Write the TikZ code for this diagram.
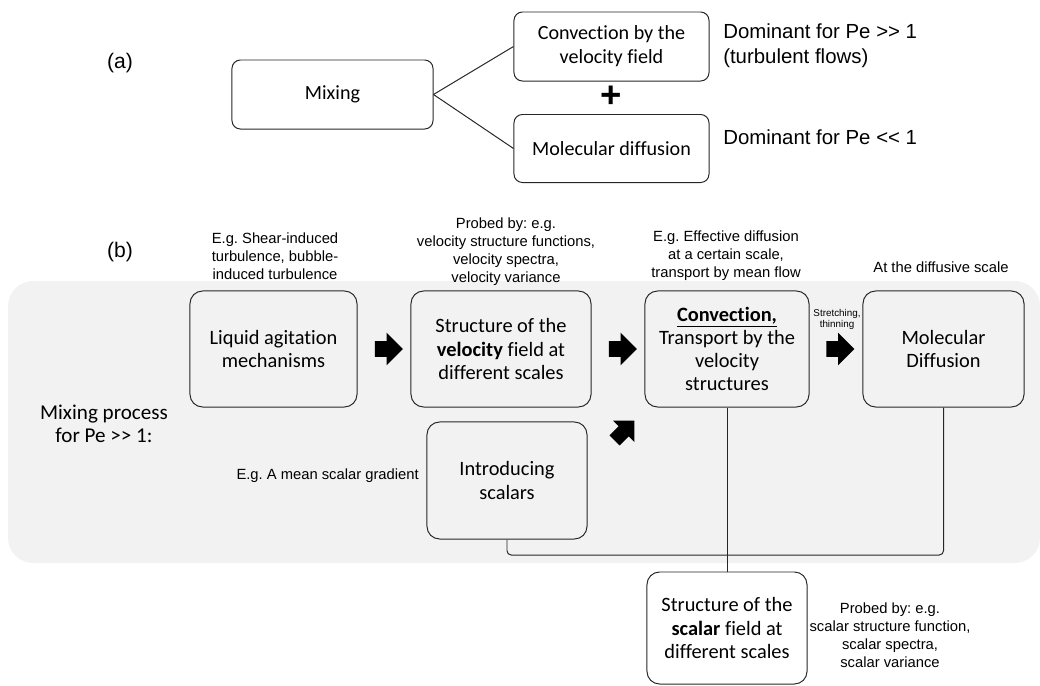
\documentclass[tikz,border=0pt]{standalone}
\usepackage{fontspec}
\setmainfont{Carlito}[Ligatures=NoCommon]
\newfontfamily\arialfont{Liberation Sans}
\usetikzlibrary{positioning,shapes.arrows}
\definecolor{panelgray}{HTML}{F2F2F2}
\newcommand{\ggt}{>\kern0pt>}
\newcommand{\llt}{<\kern0pt<}
\frenchspacing
\tikzset{
  box/.style={draw=black!85, line width=0.7pt, rounded corners=6pt, align=center,
    inner sep=2pt, font=\fontsize{14.3}{17}\selectfont},
  bigbox/.style={box, rounded corners=9pt, font=\fontsize{14.5}{16.5}\selectfont},
  note/.style={align=center, inner sep=0pt, font=\arialfont\fontsize{10.5}{12.8}\selectfont},
  dominant/.style={align=left, inner sep=0pt, anchor=west, font=\arialfont\fontsize{14.5}{17.8}\selectfont},
  fat/.style={single arrow, fill=black, draw=none, inner xsep=0pt, inner ysep=0.19cm,
    minimum height=0.7cm, single arrow head extend=0.21cm, single arrow head indent=0pt},
  link/.style={draw=black!85, line width=0.7pt},
  bracket/.style={link, rounded corners=3pt}
}

\begin{document}
\begin{tikzpicture}[x=0.025cm, y=-0.025cm]
  \useasboundingbox (0,0) rectangle (1040,685);
  % panel behind part (b)
  \fill[panelgray, rounded corners=18pt] (8,281) rectangle (1040,563);

  % part (a)
  \node[font=\arialfont\fontsize{15}{17}\selectfont] (labela) at (120,63) {(a)};
  \node[box, minimum width=5.025cm, minimum height=1.725cm] (mixing) at (332.5,94.5) {Mixing};
  \node[box, minimum width=4.875cm, minimum height=1.725cm] (convvel) at (611.5,46.5) {Convection by the\\velocity field};
  \node[box, minimum width=4.875cm, minimum height=1.7cm] (moldiff) at (611.5,148.5) {Molecular diffusion};
  \node[font=\arialfont\bfseries\fontsize{26}{26}\selectfont, inner sep=0pt] (plus) at (611.5,97) {+};
  \node[dominant] (domhigh) at (723,45.5) {Dominant for Pe \ggt{} 1\\(turbulent flows)};
  \node[dominant] (domlow) at (723,137) {Dominant for Pe \llt{} 1};

  \draw[link] (mixing.east) -- (convvel.west);
  \draw[link] (mixing.east) -- (moldiff.west);

  % part (b)
  \node[font=\arialfont\fontsize{15}{17}\selectfont] (labelb) at (120,252) {(b)};
  \node[note] (shearnote) at (275,256) {E.g. Shear-induced\\turbulence, bubble-\\induced turbulence};
  \node[note] (velnote) at (506,251.5) {Probed by: e.g.\\velocity structure functions,\\velocity spectra,\\velocity variance};
  \node[note] (effnote) at (726,256) {E.g. Effective diffusion\\at a certain scale,\\transport by mean flow};
  \node[note] (diffnote) at (941,267) {At the diffusive scale};

  \node[bigbox, minimum width=4.175cm, minimum height=2.9cm] (liquid) at (273.5,349) {Liquid agitation\\mechanisms};
  \node[bigbox, minimum width=4.5cm, minimum height=2.9cm] (velfield) at (501,349) {Structure of the\\\textbf{velocity} field at\\different scales};
  \node[bigbox, minimum width=4.1cm, minimum height=2.9cm] (convect) at (727,349) {\textbf{\underline{Convection,}}\\Transport by the\\velocity\\structures};
  \node[bigbox, minimum width=4.025cm, minimum height=2.9cm] (diffusion) at (943.5,349) {Molecular\\Diffusion};
  \node[bigbox, minimum width=4cm, minimum height=2.925cm] (intro) at (507,480.5) {Introducing\\scalars};
  \node[bigbox, minimum width=4cm, minimum height=2.8cm] (scalarfield) at (727,628) {Structure of the\\\textbf{scalar} field at\\different scales};

  \node[align=center, inner sep=0pt, font=\fontsize{15}{16.5}\selectfont] (mixproc) at (104,423.5) {Mixing process\\for Pe \ggt{} 1:};
  \node[note, anchor=east] (gradnote) at (419,476) {E.g. A mean scalar gradient};
  \node[note, font=\arialfont\fontsize{7}{7.8}\selectfont] (stretch) at (837,319.5) {Stretching,\\thinning};
  \node[note] (scalnote) at (890,635.5) {Probed by: e.g.\\scalar structure function,\\scalar spectra,\\scalar variance};

  % block arrows
  \node[fat] (arrliquid) at (385,349) {};
  \node[fat] (arrvel) at (619,349) {};
  \node[fat] (arrconv) at (836.5,349) {};
  \node[fat, rotate=45, minimum height=0.7cm, inner ysep=0.17cm, single arrow head extend=0.2cm] (arrintro) at (622,433) {};

  % bracket to the scalar field
  \coordinate (join) at (727,555);
  \draw[bracket] (intro.south) |- (join);
  \draw[bracket] (diffusion.south) |- (join);
  \draw[link] (convect.south) -- (scalarfield.north);
\end{tikzpicture}
\end{document}
